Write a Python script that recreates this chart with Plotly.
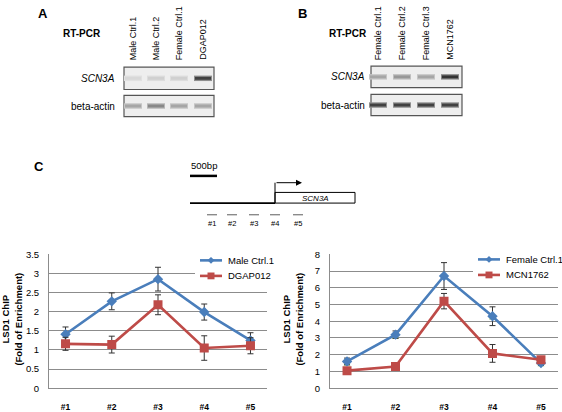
import plotly.graph_objects as go

W, H = 562, 412
FONT = "Liberation Sans, Arial, sans-serif"

# ---------------- data ----------------
lanes_A = ["Male Ctrl.1", "Male Ctrl.2", "Female Ctrl.1", "DGAP012"]
scn3a_A = [0.10, 0.14, 0.14, 0.85]      # band intensity (0..1)
actin_A = [0.35, 0.50, 0.35, 0.35]
lanes_B = ["Female Ctrl.1", "Female Ctrl.2", "Female Ctrl.3", "MCN1762"]
scn3a_B = [0.35, 0.42, 0.35, 0.92]
actin_B = [0.85, 0.85, 0.85, 0.85]

regions = ["#1", "#2", "#3", "#4", "#5"]

male_ctrl = [1.41, 2.27, 2.85, 1.99, 1.25]
male_ctrl_err = [0.19, 0.22, 0.31, 0.21, 0.2]
dgap012 = [1.16, 1.14, 2.18, 1.05, 1.11]
dgap012_err = [0.17, 0.22, 0.26, 0.32, 0.21]

female_ctrl = [1.6, 3.2, 6.7, 4.3, 1.5]
female_ctrl_err = [0.2, 0.22, 0.8, 0.56, 0.14]
mcn1762 = [1.05, 1.3, 5.2, 2.08, 1.7]
mcn1762_err = [0.08, 0.08, 0.46, 0.53, 0.1]
hidden_series = [1.45, 3.05, 6.6, 4.2, 1.4]

left_series_names = ["Male Ctrl.1", "DGAP012"]
right_series_names = ["Female Ctrl.1", "MCN1762"]

BLUE = "#4a7ebb"
RED = "#be4b48"
GRID = "#8c8c8c"


def px(x):
    return x / W


def py(y):
    return 1 - y / H


fig = go.Figure()

# ---------------- line charts ----------------
def add_series(xa, ya, y, err, name, color, symbol, size):
    fig.add_trace(go.Scatter(
        x=regions, y=y, name=name, xaxis=xa, yaxis=ya, mode="lines+markers",
        line=dict(color=color, width=2.6),
        marker=dict(color=color, symbol=symbol, size=size),
        error_y=dict(type="data", array=err, color="#333333", thickness=1, width=3),
        showlegend=False,
    ))

fig.add_trace(go.Scatter(x=regions, y=hidden_series, xaxis="x2", yaxis="y2", mode="markers",
                         marker=dict(color="#8fbf5a", symbol="triangle-up", size=6),
                         showlegend=False, hoverinfo="skip"))
add_series("x", "y", male_ctrl, male_ctrl_err, left_series_names[0], BLUE, "diamond", 8)
add_series("x", "y", dgap012, dgap012_err, left_series_names[1], RED, "square", 9)
add_series("x2", "y2", female_ctrl, female_ctrl_err, right_series_names[0], BLUE, "diamond", 8)
add_series("x2", "y2", mcn1762, mcn1762_err, right_series_names[1], RED, "square", 9)

ydom = [py(393.7), py(255.7)]
xaxis_common = dict(showgrid=False, zeroline=False, showline=True, linecolor=GRID,
                    ticks="", tickfont=dict(family=FONT, size=8.5, color="black", weight="bold"),
                    ticklabelstandoff=11, fixedrange=True)
yaxis_common = dict(showgrid=True, gridcolor=GRID, gridwidth=1, zeroline=False,
                    showline=True, linecolor=GRID, ticks="",
                    tickfont=dict(family=FONT, size=9.5, color="black"), fixedrange=True,
                    ticklabelstandoff=7)

fig.update_layout(
    xaxis=dict(domain=[px(49), px(267)], anchor="y", **xaxis_common),
    yaxis=dict(domain=ydom, anchor="x", range=[0, 3.5], dtick=0.5, **yaxis_common),
    xaxis2=dict(domain=[px(330), px(558)], anchor="y2", **xaxis_common),
    yaxis2=dict(domain=ydom, anchor="x2", range=[0, 8], dtick=1, **yaxis_common),
)

annotations = []
shapes = []

# manual legends (Excel-style: short line sample + marker)
def legend_box(x0, x1, y0, y1, line_x0, line_x1, ys, names):
    shapes.append(dict(type="rect", xref="paper", yref="paper", x0=px(x0), x1=px(x1),
                       y0=py(y1), y1=py(y0), fillcolor="white", line=dict(width=0)))
    cx = (line_x0 + line_x1) / 2
    for (yy, name, color, kind) in zip(ys, names, (BLUE, RED), ("diamond", "square")):
        shapes.append(dict(type="line", xref="paper", yref="paper", x0=px(line_x0), x1=px(line_x1),
                           y0=py(yy), y1=py(yy), line=dict(color=color, width=2.6)))
        if kind == "diamond":
            r = 3.5
            path = (f"M {px(cx - r)} {py(yy)} L {px(cx)} {py(yy - r)} L {px(cx + r)} {py(yy)} "
                    f"L {px(cx)} {py(yy + r)} Z")
            shapes.append(dict(type="path", xref="paper", yref="paper", path=path,
                               fillcolor=color, line=dict(width=0)))
        else:
            r = 3.5
            shapes.append(dict(type="rect", xref="paper", yref="paper", x0=px(cx - r), x1=px(cx + r),
                               y0=py(yy + r), y1=py(yy - r), fillcolor=color, line=dict(width=0)))
        annotations.append(dict(x=px(line_x1 + 4), y=py(yy), xref="paper", yref="paper", text=name,
                                showarrow=False, font=dict(family=FONT, size=9.5, color="black"),
                                xanchor="left", yanchor="middle"))


legend_box(195, 268, 249, 287, 200, 222, (262, 278), left_series_names)
legend_box(473, 558, 249, 287, 478, 500, (261, 277), right_series_names)

# y axis titles
for xc in (12, 293):
    annotations.append(dict(x=px(xc), y=py(323), xref="paper", yref="paper",
                            text="<b>LSD1 ChIP<br>(Fold of Enrichment)</b>", textangle=-90,
                            showarrow=False, font=dict(family=FONT, size=9.5, color="black"),
                            xanchor="center", yanchor="middle"))

# ---------------- gel panels ----------------
def mix(i, bg=236, dark=35):
    v = int(round(bg * (1 - i) + dark * i))
    return f"rgb({v},{v},{v})"


def gel_panel(letter, lx, rt_x, lanes, lane_x, scn, act, box_x0, box_x1, b1, b2, lab_x, lab_y1, lab_y2):
    annotations.append(dict(x=px(lx), y=py(8), xref="paper", yref="paper", text=f"<b>{letter}</b>",
                            showarrow=False, font=dict(family=FONT, size=13, color="black"),
                            xanchor="center", yanchor="middle"))
    annotations.append(dict(x=px(rt_x), y=py(28), xref="paper", yref="paper", text="<b>RT-PCR</b>",
                            showarrow=False, font=dict(family=FONT, size=10, color="black"),
                            xanchor="left", yanchor="middle"))
    for name, xc in zip(lanes, lane_x):
        annotations.append(dict(x=px(xc), y=py(58), xref="paper", yref="paper", text=name,
                                textangle=-90, showarrow=False,
                                font=dict(family=FONT, size=9, color="black"),
                                xanchor="center", yanchor="bottom"))
    for (y0, y1), vals in ((b1, scn), (b2, act)):
        shapes.append(dict(type="rect", xref="paper", yref="paper", x0=px(box_x0), x1=px(box_x1),
                           y0=py(y1), y1=py(y0), fillcolor="rgb(238,238,238)",
                           line=dict(color="#555555", width=1.2)))
        yc = (y0 + y1) / 2
        for xc, inten in zip(lane_x, vals):
            shapes.append(dict(type="rect", xref="paper", yref="paper", x0=px(xc - 9), x1=px(xc + 9),
                               y0=py(yc + 2.8), y1=py(yc - 2.8), fillcolor=mix(inten * 0.55),
                               line=dict(width=0)))
            shapes.append(dict(type="rect", xref="paper", yref="paper", x0=px(xc - 8), x1=px(xc + 8),
                               y0=py(yc + 1.5), y1=py(yc - 1.5), fillcolor=mix(inten),
                               line=dict(width=0)))
    annotations.append(dict(x=px(lab_x), y=py(lab_y1), xref="paper", yref="paper", text="<i>SCN3A</i>",
                            showarrow=False, font=dict(family=FONT, size=10, color="black"),
                            xanchor="right", yanchor="middle"))
    annotations.append(dict(x=px(lab_x), y=py(lab_y2), xref="paper", yref="paper", text="beta-actin",
                            showarrow=False, font=dict(family=FONT, size=10, color="black"),
                            xanchor="right", yanchor="middle"))


gel_panel("A", 43, 61, lanes_A, [133, 156, 179, 203], scn3a_A, actin_A, 124, 214,
          (63, 86), (92, 114), 117, 74.5, 103)
gel_panel("B", 302, 327, lanes_B, [378, 402, 426, 450], scn3a_B, actin_B, 371, 462,
          (62, 84), (91, 113), 367, 73, 102)

# ---------------- gene diagram (panel C) ----------------
annotations.append(dict(x=px(39), y=py(165), xref="paper", yref="paper", text="<b>C</b>",
                        showarrow=False, font=dict(family=FONT, size=13, color="black"),
                        xanchor="center", yanchor="middle"))
annotations.append(dict(x=px(189), y=py(164), xref="paper", yref="paper", text="500bp",
                        showarrow=False, font=dict(family=FONT, size=9.5, color="black"),
                        xanchor="left", yanchor="middle"))
shapes.append(dict(type="line", xref="paper", yref="paper", x0=px(190), x1=px(217),
                   y0=py(175), y1=py(175), line=dict(color="black", width=2.5)))
shapes.append(dict(type="line", xref="paper", yref="paper", x0=px(190), x1=px(275),
                   y0=py(203), y1=py(203), line=dict(color="black", width=1.6)))
shapes.append(dict(type="rect", xref="paper", yref="paper", x0=px(275), x1=px(355),
                   y0=py(203), y1=py(192), line=dict(color="black", width=1), fillcolor="white"))
shapes.append(dict(type="line", xref="paper", yref="paper", x0=px(275), x1=px(275),
                   y0=py(203), y1=py(182), line=dict(color="black", width=1)))
annotations.append(dict(x=px(302), y=py(182), ax=-27, ay=0, xref="paper", yref="paper",
                        axref="pixel", ayref="pixel", text="", showarrow=True, arrowhead=2,
                        arrowsize=1.2, arrowwidth=1, arrowcolor="black"))
annotations.append(dict(x=px(315), y=py(198), xref="paper", yref="paper", text="<i>SCN3A</i>",
                        showarrow=False, font=dict(family=FONT, size=8, color="black"),
                        xanchor="center", yanchor="middle"))
for lab, xc in zip(regions, [212, 232, 254, 275, 298]):
    shapes.append(dict(type="line", xref="paper", yref="paper", x0=px(xc - 5), x1=px(xc + 5),
                       y0=py(215), y1=py(215), line=dict(color="#777777", width=1.2)))
    annotations.append(dict(x=px(xc), y=py(224), xref="paper", yref="paper", text=lab,
                            showarrow=False, font=dict(family=FONT, size=7.5, color="black"),
                            xanchor="center", yanchor="middle"))

fig.update_layout(
    width=W, height=H, margin=dict(l=0, r=0, t=0, b=0),
    paper_bgcolor="white", plot_bgcolor="white",
    font=dict(family=FONT, color="black"), showlegend=False,
    annotations=annotations, shapes=shapes,
)

fig.write_html("out.html", config={"displayModeBar": False},
               post_script="document.body.style.margin='0';document.body.style.overflow='hidden';")
